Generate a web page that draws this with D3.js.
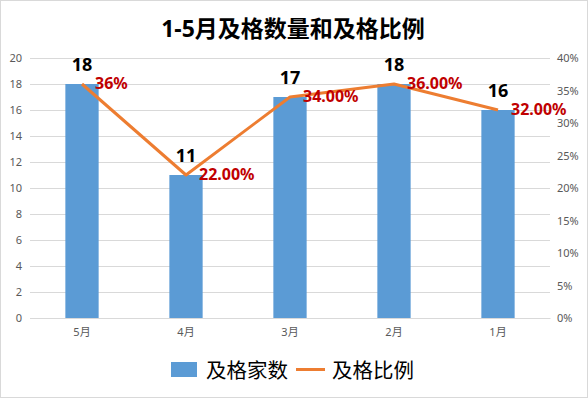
<!DOCTYPE html>
<html>
<head>
<meta charset="utf-8">
<script src="https://cdn.jsdelivr.net/npm/d3@7"></script>
<style>
  body { margin: 0; background: #fff; }
  text { font-family: "Noto Sans", "Noto Sans CJK SC", sans-serif; }
</style>
</head>
<body>
<script>
// data
var months = ['5月', '4月', '3月', '2月', '1月'];
var passCount = [18, 11, 17, 18, 16];
var passRate = [0.36, 0.22, 0.34, 0.36, 0.32];
var rateLabels = ['36%', '22.00%', '34.00%', '36.00%', '32.00%'];
var leftTicks = [0, 2, 4, 6, 8, 10, 12, 14, 16, 18, 20];
var rightTicks = [0, 0.05, 0.1, 0.15, 0.2, 0.25, 0.3, 0.35, 0.4];

var width = 588, height = 398;
var plot = { left: 30, right: 550, top: 58, bottom: 318 };

var svg = d3.select('body').append('svg')
  .attr('width', width).attr('height', height);

svg.append('rect')
  .attr('x', 0.5).attr('y', 0.5)
  .attr('width', width - 1).attr('height', height - 1)
  .attr('fill', '#fff').attr('stroke', '#d9d9d9');

svg.append('text')
  .attr('x', 293).attr('y', 37)
  .attr('text-anchor', 'middle')
  .attr('font-size', 23).attr('font-weight', 'bold')
  .attr('fill', '#000')
  .text('1-5月及格数量和及格比例');

var x = d3.scaleBand().domain(months).range([plot.left, plot.right]).paddingInner(0.68).paddingOuter(0.34);
var yL = d3.scaleLinear().domain([0, 20]).range([plot.bottom, plot.top]);
var yR = d3.scaleLinear().domain([0, 0.4]).range([plot.bottom, plot.top]);

// gridlines
svg.append('g').selectAll('line').data(leftTicks).enter().append('line')
  .attr('x1', plot.left).attr('x2', plot.right)
  .attr('y1', function(d){ return Math.round(yL(d)) + 0.5; })
  .attr('y2', function(d){ return Math.round(yL(d)) + 0.5; })
  .attr('stroke', '#d9d9d9');

// left axis
var leftAxis = svg.append('g')
  .attr('transform', 'translate(' + plot.left + ',0)')
  .call(d3.axisLeft(yL).tickValues(leftTicks).tickSize(0).tickPadding(8));
leftAxis.select('.domain').remove();
leftAxis.selectAll('text').attr('fill', '#595959').attr('font-size', 11);

// right axis
var rightAxis = svg.append('g')
  .attr('transform', 'translate(' + plot.right + ',0)')
  .call(d3.axisRight(yR).tickValues(rightTicks).tickSize(0).tickPadding(7).tickFormat(d3.format('.0%')));
rightAxis.select('.domain').remove();
rightAxis.selectAll('text').attr('fill', '#595959').attr('font-size', 11);

// bottom axis
var bottomAxis = svg.append('g')
  .attr('transform', 'translate(0,' + plot.bottom + ')')
  .call(d3.axisBottom(x).tickSize(0).tickPadding(10));
bottomAxis.select('.domain').attr('stroke', '#d9d9d9');
bottomAxis.selectAll('text').attr('fill', '#595959').attr('font-size', 11);

// bars
svg.append('g').selectAll('rect').data(passCount).enter().append('rect')
  .attr('x', function(d, i){ return x(months[i]); })
  .attr('y', function(d){ return yL(d); })
  .attr('width', x.bandwidth())
  .attr('height', function(d){ return yL(0) - yL(d); })
  .attr('fill', '#5b9bd5');

svg.append('g').selectAll('text').data(passCount).enter().append('text')
  .attr('x', function(d, i){ return x(months[i]) + x.bandwidth() / 2; })
  .attr('y', function(d){ return yL(d) - 13; })
  .attr('text-anchor', 'middle')
  .attr('font-size', 18).attr('font-weight', 'bold')
  .attr('fill', '#000')
  .text(function(d){ return d; });

// line
var line = d3.line()
  .x(function(d, i){ return x(months[i]) + x.bandwidth() / 2; })
  .y(function(d){ return yR(d); });

svg.append('path').datum(passRate)
  .attr('d', line)
  .attr('fill', 'none')
  .attr('stroke', '#ed7d31')
  .attr('stroke-width', 3)
  .attr('stroke-linejoin', 'round');

svg.append('g').selectAll('text').data(passRate).enter().append('text')
  .attr('x', function(d, i){ return x(months[i]) + x.bandwidth() / 2 + 13; })
  .attr('y', function(d){ return yR(d) + 5; })
  .attr('font-size', 16).attr('font-weight', 'bold')
  .attr('fill', '#c00000')
  .text(function(d, i){ return rateLabels[i]; });

// legend
var legend = svg.append('g');
legend.append('rect')
  .attr('x', 171).attr('y', 362).attr('width', 26).attr('height', 15)
  .attr('fill', '#5b9bd5');
legend.append('text')
  .attr('x', 206).attr('y', 378)
  .attr('font-size', 20.5).attr('fill', '#000')
  .text('及格家数');
legend.append('line')
  .attr('x1', 296).attr('x2', 325).attr('y1', 369.5).attr('y2', 369.5)
  .attr('stroke', '#ed7d31').attr('stroke-width', 3);
legend.append('text')
  .attr('x', 332).attr('y', 378)
  .attr('font-size', 20.5).attr('fill', '#000')
  .text('及格比例');
</script>
</body>
</html>
